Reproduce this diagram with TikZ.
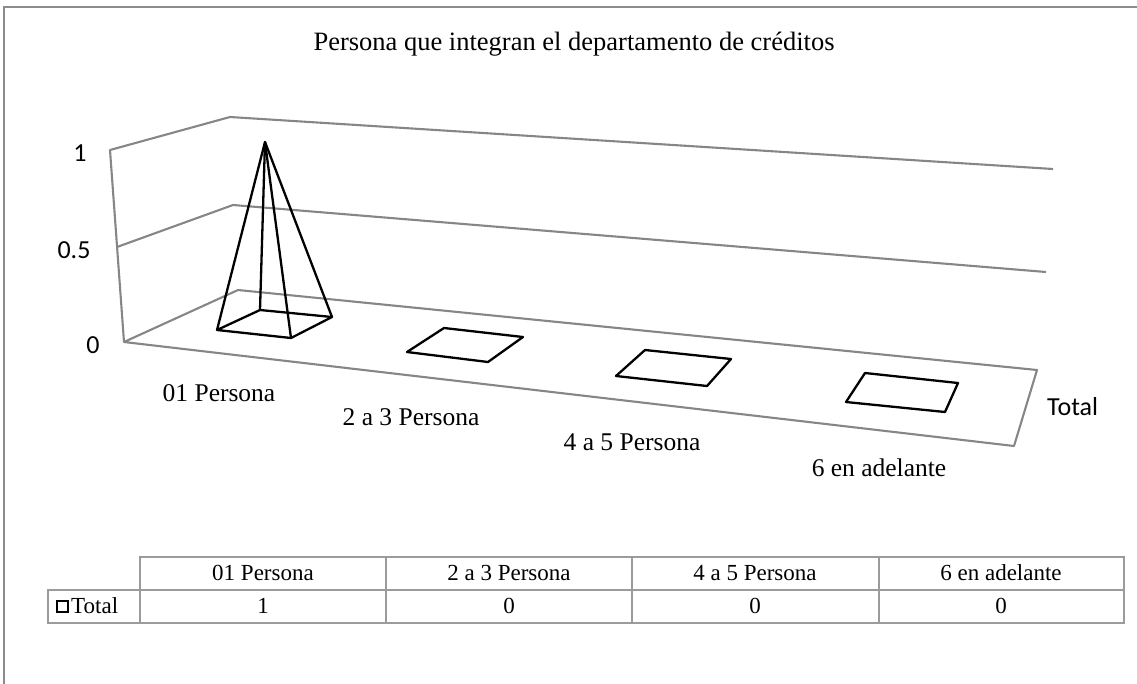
\documentclass[tikz,border=0pt]{standalone}
\usepackage{fontspec}
\setmainfont{Liberation Serif}
\newfontfamily\calib{Carlito}
\definecolor{axisgray}{RGB}{134,134,134}
\definecolor{tablegray}{RGB}{155,155,155}
\definecolor{framegray}{RGB}{140,140,140}
\begin{document}
\begin{tikzpicture}[x=1pt,y=-1pt,
  wall/.style={draw=axisgray,line width=2.1pt,line join=round},
  barline/.style={draw=black,line width=2.3pt,line join=round},
  cat/.style={font=\fontsize{25.5}{28}\selectfont,inner sep=0pt},
  ylab/.style={font=\calib\fontsize{26}{28}\selectfont,inner sep=0pt},
  tab/.style={font=\fontsize{23}{26}\selectfont,inner sep=0pt},
  grid/.style={draw=tablegray,line width=1.5pt}]
\useasboundingbox (0,0) rectangle (1137,683);
% outer frame (top and left edges visible)
\coordinate (fTL) at (4,7);
\coordinate (fTR) at (1140,7);
\coordinate (fBL) at (4,686);
\draw[framegray,line width=1.4pt] (fBL) -- (fTL) -- (fTR);
% title
\node[cat,font=\fontsize{26.5}{30}\selectfont] (title) at (574,44) {Persona que integran el departamento de créditos};
% walls
\coordinate (LT) at (110,150);
\coordinate (BT) at (230,117);
\coordinate (RT) at (1053,169);
\coordinate (LM) at (117,247);
\coordinate (BM) at (233,205);
\coordinate (RM) at (1046,272);
\coordinate (LB) at (124,342);
\coordinate (BB) at (238,290);
\coordinate (RB) at (1037,370);
\coordinate (FR) at (1014,446);
\draw[wall] (LB) -- (LT) -- (BT) -- (RT);
\draw[wall] (LM) -- (BM) -- (RM);
\draw[wall] (LB) -- (BB) -- (RB) -- (FR) -- cycle;
% pyramid
\coordinate (apex) at (265,142);
\coordinate (p1) at (217,330);
\coordinate (p2) at (291,338);
\coordinate (p3) at (332,317);
\coordinate (p4) at (260,310);
\draw[barline] (p1) -- (p2) -- (p3) -- (p4) -- cycle;
\draw[barline] (p1) -- (apex) -- (p2);
\draw[barline] (p3) -- (apex) -- (p4);
% flat bases
\coordinate (a1) at (407,352); \coordinate (a2) at (488,362);
\coordinate (a3) at (523,337); \coordinate (a4) at (444,328);
\draw[barline] (a1) -- (a2) -- (a3) -- (a4) -- cycle;
\coordinate (b1) at (616,376); \coordinate (b2) at (707,386);
\coordinate (b3) at (731,359); \coordinate (b4) at (645,350);
\draw[barline] (b1) -- (b2) -- (b3) -- (b4) -- cycle;
\coordinate (c1) at (846,402); \coordinate (c2) at (945,412);
\coordinate (c3) at (958,383); \coordinate (c4) at (865,373);
\draw[barline] (c1) -- (c2) -- (c3) -- (c4) -- cycle;
% axis labels
\node[ylab] (y1) at (80,153) {1};
\node[ylab] (y05) at (74,250) {0.5};
\node[ylab] (y0) at (93,345) {0};
\node[ylab,anchor=west] (ser) at (1047,407) {Total};
\node[cat] (x1) at (219,393) {01 Persona};
\node[cat] (x2) at (411,417) {2 a 3 Persona};
\node[cat] (x3) at (632,442) {4 a 5 Persona};
\node[cat] (x4) at (879,468) {6 en adelante};
% data table
\draw[grid] (140,590) -- (140,557) -- (1124,557) -- (1124,623) -- (48,623) -- (48,590) -- (1124,590);
\foreach \x in {140,386,632,879} \draw[grid] (\x,557) -- (\x,623);
\node[tab] (h1) at (263,573) {01 Persona};
\node[tab] (h2) at (509,573) {2 a 3 Persona};
\node[tab] (h3) at (755,573) {4 a 5 Persona};
\node[tab] (h4) at (1001,573) {6 en adelante};
\node[draw=black,line width=2pt,minimum size=11pt,inner sep=0pt] (key) at (62,606) {};
\node[tab,anchor=west] (lt) at (71,606) {Total};
\node[tab] (d1) at (263,606) {1};
\node[tab] (d2) at (509,606) {0};
\node[tab] (d3) at (755,606) {0};
\node[tab] (d4) at (1001,606) {0};
\end{tikzpicture}
\end{document}
